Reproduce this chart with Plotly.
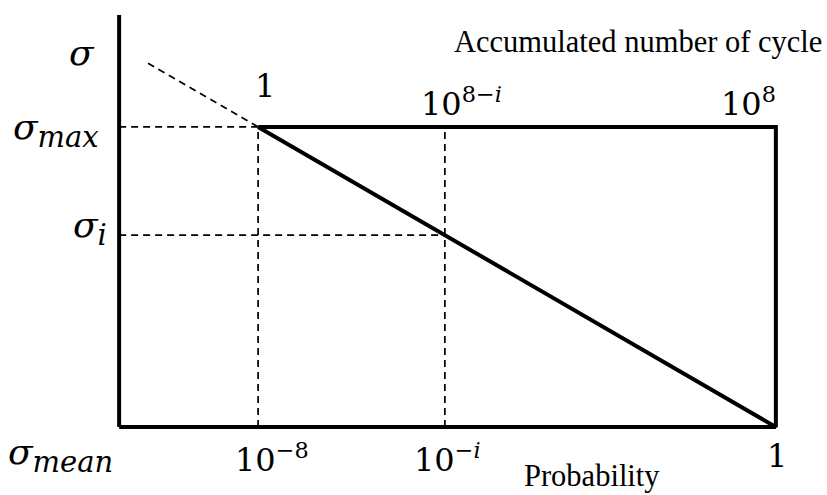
import plotly.graph_objects as go

# Schematic positions along the probability axis (0 = origin, 1 = probability 1)
x_origin = 0.0
x_p_min = 0.2116   # probability 10^-8  (accumulated cycle 1)
x_p_i = 0.496      # probability 10^-i  (accumulated cycle 10^(8-i))
x_p_one = 1.0      # probability 1      (accumulated cycle 10^8)

# Stress levels (normalised: sigma_mean = 0, sigma_max = 1)
sigma_mean = 0.0
sigma_max = 1.0
axis_top = 1.373
ext_x = 0.044      # start of the dashed extension of the stress line

# Stress on the straight line at probability 10^-i
sigma_i = sigma_max * (x_p_one - x_p_i) / (x_p_one - x_p_min)
sigma_ext = sigma_max * (x_p_one - ext_x) / (x_p_one - x_p_min)

SUB = '<sub><span style="font-size:29px">{}</span></sub>'
sigma_text = ["<i>σ</i>",
              "<i>σ</i>" + SUB.format("<i>max</i>"),
              "<i>σ</i>" + SUB.format("<i>i</i>"),
              "<i>σ</i>" + SUB.format("<i>mean</i>")]
top_labels = ["1", "10<sup>8−<i>i</i></sup>", "10<sup>8</sup>"]
bottom_labels = ["10<sup>−8</sup>", "10<sup>−<i>i</i></sup>", "1"]
tick_x = [x_p_min, x_p_i, x_p_one]

BLACK = "#000000"
SOLID_W = 4
DASH_W = 1.7
DASH = "7px,5px"

fig = go.Figure()


def seg(xs, ys, width, dash="solid"):
    fig.add_trace(go.Scatter(
        x=xs, y=ys, mode="lines",
        line=dict(color=BLACK, width=width, dash=dash),
        hoverinfo="skip", showlegend=False,
    ))


# Dashed guide lines
seg([x_origin, x_p_min], [sigma_max, sigma_max], DASH_W, DASH)
seg([x_p_min, x_p_min], [sigma_mean, sigma_max], DASH_W, DASH)
seg([x_origin, x_p_i], [sigma_i, sigma_i], DASH_W, DASH)
seg([x_p_i, x_p_i], [sigma_mean, sigma_max], DASH_W, DASH)
seg([ext_x, x_p_min], [sigma_ext, sigma_max], DASH_W, DASH)

# Axes
seg([x_origin, x_origin], [sigma_mean, axis_top], SOLID_W)
seg([x_origin, x_p_one], [sigma_mean, sigma_mean], SOLID_W)

# Stress distribution: upper bound, right edge and decreasing line
seg([x_p_min, x_p_one, x_p_one, x_p_min],
    [sigma_max, sigma_max, sigma_mean, sigma_max], SOLID_W)

SIGMA_FONT = dict(family="DejaVu Serif", size=36, color=BLACK)
NUM_FONT = dict(family="DejaVu Serif", size=32, color=BLACK)
TEXT_FONT = dict(family="Liberation Serif", size=30.5, color=BLACK)

ann = []
# Stress labels on the vertical axis
sigma_pos = [(1.247, -22, 0), (sigma_max, -18, -3), (sigma_i, -10, 7), (sigma_mean, -4, -28)]
for txt, (yv, xs, ys) in zip(sigma_text, sigma_pos):
    ann.append(dict(x=x_origin, y=yv, xref="x", yref="y", text=txt,
                    showarrow=False, xanchor="right", yanchor="middle",
                    xshift=xs, yshift=ys, font=SIGMA_FONT))

# Accumulated number of cycles along the top
top_shift = [(7, 20, "center"), (17, 2, "center"), (2, 2, "right")]
for xv, txt, (xs, ys, anc) in zip(tick_x, top_labels, top_shift):
    ann.append(dict(x=xv, y=sigma_max, xref="x", yref="y", text=txt,
                    showarrow=False, xanchor=anc, yanchor="bottom",
                    xshift=xs, yshift=ys, font=NUM_FONT))

# Probability along the bottom
bottom_shift = [14, 3, 1]
for xv, txt, xs in zip(tick_x, bottom_labels, bottom_shift):
    ann.append(dict(x=xv, y=sigma_mean, xref="x", yref="y", text=txt,
                    showarrow=False, xanchor="center", yanchor="top",
                    xshift=xs, yshift=-8, font=NUM_FONT))

ann.append(dict(x=x_p_one, y=axis_top, xref="x", yref="y",
                text="Accumulated number of cycle", showarrow=False,
                xanchor="right", yanchor="middle", xshift=48, yshift=-27,
                font=TEXT_FONT))
ann.append(dict(x=0.72, y=sigma_mean, xref="x", yref="y",
                text="Probability", showarrow=False,
                xanchor="center", yanchor="middle", yshift=-49,
                font=TEXT_FONT))

# 300 px per stress unit, 657 px per probability-axis unit
fig.update_layout(
    width=827, height=495,
    margin=dict(l=105.86, r=37.86, t=12, b=59),
    paper_bgcolor="white", plot_bgcolor="white",
    xaxis=dict(range=[-0.02, 1.02], visible=False, fixedrange=True),
    yaxis=dict(range=[-0.03, axis_top + 0.01], visible=False, fixedrange=True),
    annotations=ann,
    showlegend=False,
)

fig.write_html("out.html")
